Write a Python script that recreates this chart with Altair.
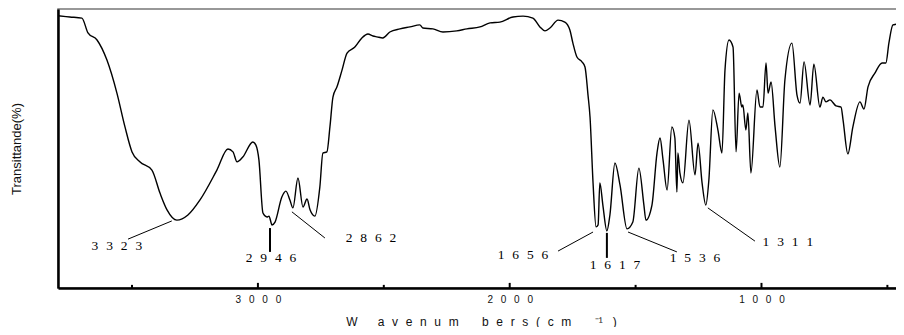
import altair as alt
import pandas as pd

# IR spectrum
wavenumber = [3794,3747,3699,3675,3639,3600,3560,3528,3500,3469,
              3421,3389,3361,3322,3278,3230,3163,3119,3099,3083,
              3060,3020,3008,2996,2980,2964,2956,2944,2932,2905,
              2889,2873,2861,2841,2821,2805,2793,2774,2754,2742,
              2726,2714,2702,2686,2666,2646,2615,2587,2563,2543,
              2527,2504,2476,2436,2396,2357,2345,2305,2265,2210,
              2170,2118,2078,2039,1987,1947,1908,1880,1860,1840,
              1808,1781,1761,1749,1733,1713,1701,1689,1681,1669,
              1657,1649,1642,1630,1614,1602,1582,1562,1534,1511,
              1487,1467,1459,1435,1415,1403,1391,1375,1356,1344,
              1336,1332,1324,1312,1288,1264,1252,1236,1221,1209,
              1193,1173,1157,1145,1129,1113,1101,1089,1078,1074,
              1062,1054,1042,1018,1006,994,982,974,962,946,
              927,907,879,859,847,831,807,792,768,756,
              744,728,704,684,676,657,637,609,593,577,
              549,521,506,494,478,462,442,430]
transmittance = [95.8,95.4,95.0,89.8,87.3,80.3,68.6,56.7,47.9,44.4,
                 41.5,33.4,27.5,23.9,25.7,31.0,41.5,48.9,47.9,44.4,
                 46.1,51.4,50.3,45.1,26.4,25.0,25.3,22.2,23.2,32.0,
                 34.1,31.0,28.2,38.7,28.5,31.3,27.5,25.3,35.6,47.5,
                 47.9,56.7,67.2,70.8,76.7,82.7,84.8,88.0,89.4,88.7,
                 88.4,88.0,90.1,91.2,91.9,92.6,91.5,91.2,90.1,90.5,
                 91.2,91.9,93.3,93.6,95.4,95.7,95.0,91.9,90.5,91.5,
                 94.3,93.6,90.8,86.2,81.3,79.6,77.8,67.9,60.2,37.0,
                 21.5,22.2,37.0,29.2,20.1,25.7,44.0,36.3,20.8,23.2,
                 42.2,29.2,23.9,29.2,47.5,52.8,45.1,34.5,56.7,52.8,
                 33.8,47.5,40.5,37.0,59.1,39.8,51.0,37.0,29.2,38.0,
                 62.7,55.6,47.5,76.7,87.3,84.8,47.9,68.6,63.7,64.4,
                 55.6,61.6,40.5,69.7,63.7,63.7,79.2,68.6,72.5,56.7,
                 42.6,73.2,86.2,67.9,65.1,79.6,64.4,78.8,63.7,67.2,
                 65.5,66.2,64.1,63.7,59.1,47.2,56.7,65.5,63.0,70.8,
                 75.7,79.2,79.2,86.2,92.6,92.9,95.4,96.1]

# peak annotations
peak_labels = ["3323", "2946", "2862", "1656", "1617", "1536", "1311"]
label_wn = [3560, 2948, 2551, 1947, 1582, 1264, 895]
label_t = [14.8, 10.6, 17.6, 11.6, 8.1, 10.6, 16.2]

lead_wn1 = [3516, 2865, 1808, 1530, 1213]
lead_t1 = [17.2, 26.8, 13.0, 19.7, 28.2]
lead_wn2 = [3342, 2734, 1669, 1336, 1026]
lead_t2 = [23.6, 17.6, 19.7, 12.7, 16.5]

vlead_wn = [2952, 1614]
vlead_t1 = [21.1, 19.4]
vlead_t2 = [12.7, 10.6]

major_ticks = [3000, 2000, 1000]
minor_ticks = [3500, 2500, 1500, 500]

X_DOMAIN = [3794, 434]
Y_DOMAIN = [0, 98.2]

spec = pd.DataFrame({"w": wavenumber, "t": transmittance, "i": list(range(len(wavenumber)))})
sep = "\u00a0\u00a0\u200a"
ann = pd.DataFrame({"w": label_wn, "t": label_t,
                    "txt": [sep.join(list(s)) for s in peak_labels]})
leads = pd.DataFrame({"w": lead_wn1, "t": lead_t1, "w2": lead_wn2, "t2": lead_t2})
vleads = pd.DataFrame({"w": vlead_wn, "t": vlead_t1, "t2": vlead_t2})
ticks_major = pd.DataFrame({"w": major_ticks, "t": [0] * 3, "t2": [1.8] * 3})
ticks_minor = pd.DataFrame({"w": minor_ticks, "t": [0] * 4, "t2": [1.1] * 4})

nb = "\u00a0"
gap = nb * 2 + "\u200a"
xtitle = ("W" + nb * 6 + gap.join("avenum") + nb * 7 + gap.join("bers(cm")
          + nb * 7 + "\u207b\u00b9" + nb * 3 + ")")

xscale = alt.Scale(domain=X_DOMAIN, nice=False, zero=False)
yscale = alt.Scale(domain=Y_DOMAIN, nice=False, zero=False)

x_axis = alt.Axis(values=major_ticks, ticks=False, grid=False,
                  domainColor="black", domainWidth=2.5,
                  labelExpr="join(split(format(datum.value, 'd'), ''), '\u2002\u00a0')",
                  labelFont="Liberation Sans", labelFontSize=10, labelColor="#111",
                  labelPadding=6, title=xtitle, titleFont="Liberation Sans",
                  titleFontSize=12, titleFontWeight="normal", titleColor="#111",
                  titlePadding=12)
y_axis = alt.Axis(labels=False, ticks=False, grid=False,
                  domainColor="black", domainWidth=2.5,
                  title="Transittande(%)", titleFont="Liberation Sans",
                  titleFontSize=13, titleFontWeight="normal", titleColor="#111",
                  titlePadding=35)

line = alt.Chart(spec).mark_line(color="black", strokeWidth=1.4,
                                 interpolate="monotone", clip=True).encode(
    x=alt.X("w:Q", scale=xscale, axis=x_axis),
    y=alt.Y("t:Q", scale=yscale, axis=y_axis),
    order="i:Q",
)

tmaj = alt.Chart(ticks_major).mark_rule(color="black", strokeWidth=2).encode(
    x="w:Q", y="t:Q", y2="t2:Q")
tmin = alt.Chart(ticks_minor).mark_rule(color="black", strokeWidth=2).encode(
    x="w:Q", y="t:Q", y2="t2:Q")

lead_layer = alt.Chart(leads).mark_rule(color="black", strokeWidth=1).encode(
    x="w:Q", y="t:Q", x2="w2:Q", y2="t2:Q")
vlead_layer = alt.Chart(vleads).mark_rule(color="black", strokeWidth=2).encode(
    x="w:Q", y="t:Q", y2="t2:Q")

txt = alt.Chart(ann).mark_text(font="Liberation Serif", fontSize=13.5, color="black",
                               align="center", baseline="middle").encode(
    x="w:Q", y="t:Q", text="txt:N")

chart = alt.layer(line, tmaj, tmin, lead_layer, vlead_layer, txt).properties(
    width=846, height=279,
    padding={"left": 2, "top": 1, "right": -8, "bottom": 0},
).configure(
    background="white",
    view=alt.ViewConfig(stroke="#777", strokeWidth=1.5),
)

chart.save("out.html", embed_options={"renderer": "svg", "actions": False})
